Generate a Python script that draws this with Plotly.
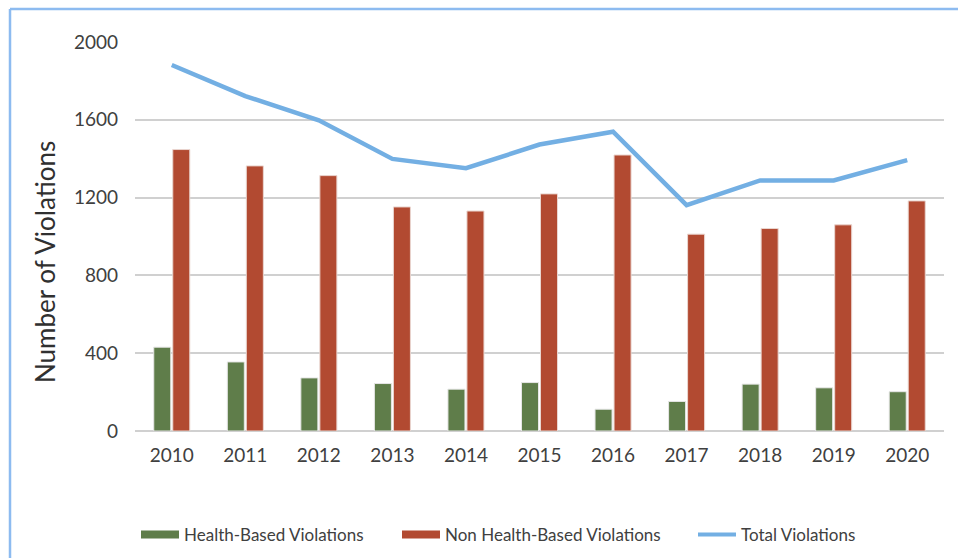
import plotly.graph_objects as go

years = ["2010", "2011", "2012", "2013", "2014", "2015", "2016", "2017", "2018", "2019", "2020"]
health_based = [431, 355, 273, 244, 215, 249, 112, 152, 241, 222, 202]
non_health_based = [1447, 1363, 1313, 1152, 1131, 1219, 1419, 1012, 1041, 1060, 1183]
total = [1882, 1722, 1597, 1399, 1351, 1473, 1539, 1161, 1288, 1288, 1393]
y_ticks = [0, 400, 800, 1200, 1600, 2000]

GREEN = "#5F7D4A"
RED = "#B24A31"
BLUE = "#73AFE3"
FONT = "Lato"
TXT = "#404040"

fig = go.Figure()
fig.add_trace(go.Bar(x=years, y=health_based, name="Health-Based Violations",
                     marker=dict(color=GREEN, line=dict(color="#E6E6E6", width=1)),
                     showlegend=False))
fig.add_trace(go.Bar(x=years, y=non_health_based, name="Non Health-Based Violations",
                     marker=dict(color=RED, line=dict(color="#EAD6D0", width=1)),
                     showlegend=False))
fig.add_trace(go.Scatter(x=years, y=total, name="Total Violations", mode="lines",
                         line=dict(color=BLUE, width=4.5), showlegend=False))

# legend-only entries (wide swatches like the original)
fig.add_trace(go.Scatter(x=[None], y=[None], mode="lines", name="Health-Based Violations",
                         line=dict(color=GREEN, width=8), legend="legend"))
fig.add_trace(go.Scatter(x=[None], y=[None], mode="lines", name="Non Health-Based Violations",
                         line=dict(color=RED, width=8), legend="legend2"))
fig.add_trace(go.Scatter(x=[None], y=[None], mode="lines", name="Total Violations",
                         line=dict(color=BLUE, width=4), legend="legend3"))

L, R, T, B = 135, 14, 42, 127
W, H = 958, 558
pw, ph = W - L - R, H - T - B

def px(x):
    return (x - L) / pw

def py(y):
    return (H - B - y) / ph

leg_common = dict(orientation="h", yanchor="middle", xanchor="left",
                  font=dict(family=FONT, size=17, color=TXT), itemwidth=38,
                  bgcolor="rgba(0,0,0,0)", borderwidth=0)

fig.update_layout(
    width=W, height=H,
    margin=dict(l=L, r=R, t=T, b=B, autoexpand=False),
    paper_bgcolor="white", plot_bgcolor="white",
    barmode="group", bargap=0.483, bargroupgap=0.105,
    font=dict(family=FONT, color=TXT),
    legend=dict(x=px(136), y=py(535), **leg_common),
    legend2=dict(x=px(397), y=py(535), **leg_common),
    legend3=dict(x=px(693), y=py(535), **leg_common),
    xaxis=dict(type="category", range=[-0.5, 10.5], showgrid=False, showline=False,
               ticks="", ticklabelstandoff=11,
               tickfont=dict(family=FONT, size=19, color=TXT)),
    yaxis=dict(range=[0, 2000], tickvals=y_ticks, showgrid=True, gridcolor="#D0D0D0",
               gridwidth=1.5, zeroline=True, zerolinecolor="#D0D0D0", zerolinewidth=1.5,
               showline=False, ticks="", ticklabelstandoff=16,
               tickfont=dict(family=FONT, size=19, color=TXT)),
    annotations=[
        dict(text="Number of Violations", xref="paper", yref="paper",
             x=px(45), y=py(262), xanchor="center", yanchor="middle",
             textangle=-90, showarrow=False,
             font=dict(family=FONT, size=26, color="#303030")),
    ],
    shapes=[
        dict(type="line", xref="paper", yref="paper", x0=px(10), x1=px(10),
             y0=py(9), y1=py(H + 5), line=dict(color="#8DBBF0", width=2.5)),
        dict(type="line", xref="paper", yref="paper", x0=px(10), x1=px(W + 5),
             y0=py(9), y1=py(9), line=dict(color="#8DBBF0", width=2.5)),
    ],
)

fig.write_html("out.html", config={"displayModeBar": False},
               post_script="document.body.style.margin='0px';")
